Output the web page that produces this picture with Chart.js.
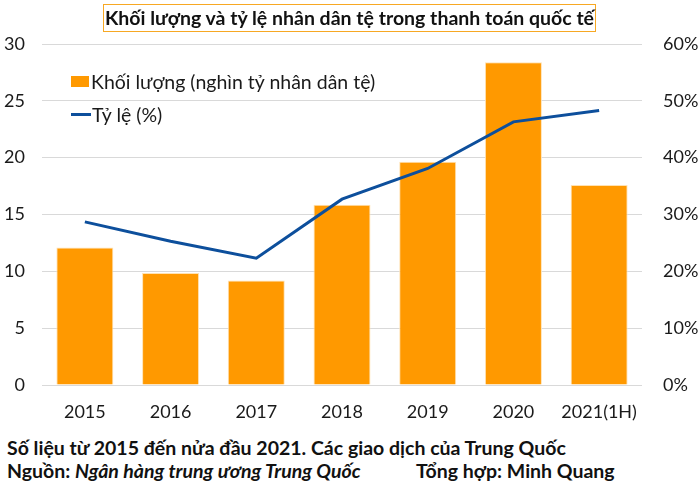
<!DOCTYPE html>
<html>
<head>
<meta charset="utf-8">
<script src="https://cdn.jsdelivr.net/npm/chart.js@4/dist/chart.umd.min.js"></script>
<style>
    body { margin: 0; background: #fff; font-family: Lato, "Noto Sans", sans-serif; color: #111; }
    #wrap { position: relative; width: 700px; height: 490px; overflow: hidden; }
    #chartBox { position: absolute; left: 0; top: 0; width: 700px; height: 430px; }
    #title {
        position: absolute; left: 103px; top: 4px; width: 491px; height: 26px;
        border: 1.5px solid #F7A823; font-weight: bold; font-size: 19.5px;
        line-height: 26px; text-align: center; white-space: nowrap;
    }
    #legend { position: absolute; left: 71px; top: 65px; font-size: 19.5px; color: #1a1a1a; }
    .leg-item { height: 33px; display: flex; align-items: center; white-space: nowrap; }
    .leg-box { width: 18px; height: 11px; margin-right: 2px; }
    .leg-line { width: 20px; height: 3px; margin-right: 1px; }
    #footer { position: absolute; left: 7px; top: 436px; font-size: 19.5px; font-weight: bold; line-height: 23px; color: #111; white-space: nowrap; }
    .credit { position: absolute; left: 409px; }
</style>
</head>
<body>
<div id="wrap">
    <div id="chartBox"><canvas id="mainChart"></canvas></div>
    <div id="title">Khối lượng và tỷ lệ nhân dân tệ trong thanh toán quốc tế</div>
    <div id="legend"></div>
    <div id="footer">
        <div>Số liệu từ 2015 đến nửa đầu 2021. Các giao dịch của Trung Quốc</div>
        <div>Nguồn: <i>Ngân hàng trung ương Trung Quốc</i><span class="credit">Tổng hợp: Minh Quang</span></div>
    </div>
</div>
<script>
// Data
const years = ['2015', '2016', '2017', '2018', '2019', '2020', '2021(1H)'];
const volume = [12.1, 9.85, 9.2, 15.85, 19.65, 28.4, 17.6];   // nghìn tỷ nhân dân tệ
const share = [28.7, 25.3, 22.3, 32.7, 38.1, 46.3, 48.3];     // %
const leftTicks = [0, 5, 10, 15, 20, 25, 30];
const rightTicks = [0, 10, 20, 30, 40, 50, 60];

const ORANGE = '#FF9900';
const BLUE = '#0D4F9C';
const tickFont = { family: 'Lato', size: 18 };

const datasets = [
    {
        type: 'bar',
        label: 'Khối lượng (nghìn tỷ nhân dân tệ)',
        data: volume,
        backgroundColor: ORANGE,
        borderColor: '#FFE2B3',
        borderWidth: 1,
        barPercentage: 0.665,
        categoryPercentage: 1,
        yAxisID: 'y',
        order: 2
    },
    {
        type: 'line',
        label: 'Tỷ lệ (%)',
        data: share,
        borderColor: BLUE,
        borderWidth: 3,
        pointRadius: 0,
        tension: 0,
        fill: false,
        yAxisID: 'y1',
        order: 1
    }
];

// HTML legend built from the dataset labels
const legendEl = document.getElementById('legend');
datasets.forEach(ds => {
    const item = document.createElement('div');
    item.className = 'leg-item';
    const mark = document.createElement('span');
    if (ds.type === 'bar') {
        mark.className = 'leg-box';
        mark.style.background = ds.backgroundColor;
    } else {
        mark.className = 'leg-line';
        mark.style.background = ds.borderColor;
    }
    item.appendChild(mark);
    item.appendChild(document.createTextNode(ds.label));
    legendEl.appendChild(item);
});

const ctx = document.getElementById('mainChart').getContext('2d');
new Chart(ctx, {
    data: { labels: years, datasets },
    options: {
        responsive: true,
        maintainAspectRatio: false,
        animation: false,
        layout: { padding: { top: 44, bottom: 0, left: 0, right: 0 } },
        plugins: {
            legend: { display: false },
            tooltip: { enabled: false }
        },
        scales: {
            x: {
                grid: { display: false, drawTicks: false },
                border: { display: false },
                ticks: { font: tickFont, color: '#1a1a1a', padding: 16, maxRotation: 0 },
                afterFit: s => { s.height = 45; }
            },
            y: {
                position: 'left',
                min: 0,
                max: 30,
                afterBuildTicks: s => { s.ticks = leftTicks.map(v => ({ value: v })); },
                grid: { color: '#D9D9D9', lineWidth: 1, drawTicks: false },
                border: { display: false },
                ticks: { font: tickFont, color: '#1a1a1a', padding: 17 },
                afterFit: s => { s.width = 42; }
            },
            y1: {
                position: 'right',
                min: 0,
                max: 60,
                afterBuildTicks: s => { s.ticks = rightTicks.map(v => ({ value: v })); },
                grid: { display: false, drawTicks: false },
                border: { display: false },
                ticks: { font: tickFont, color: '#1a1a1a', padding: 21, callback: v => v + '%' },
                afterFit: s => { s.width = 58; }
            }
        }
    }
});
</script>
</body>
</html>
